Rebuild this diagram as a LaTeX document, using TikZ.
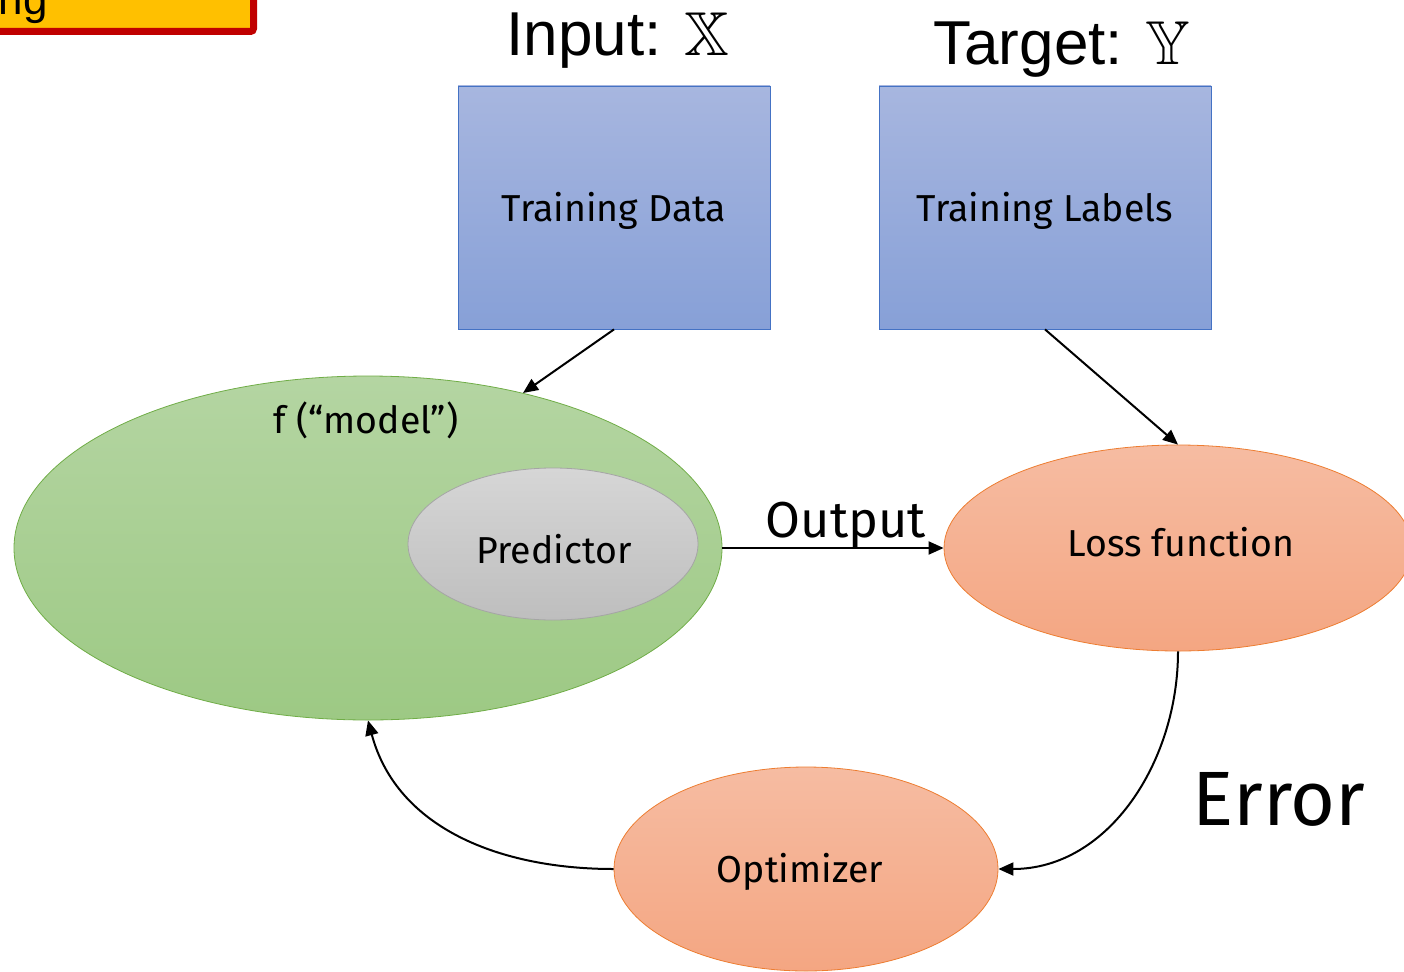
\documentclass[tikz,border=0pt]{standalone}
\usepackage{amssymb}
\usepackage{fontspec}
\setmainfont{Fira Sans}
\newfontfamily\arialf{Liberation Sans}
\usetikzlibrary{arrows.meta,shapes.geometric}
\begin{document}
\begin{tikzpicture}[x=1pt,y=-1pt,
  boxstyle/.style={rectangle, top color=bluetop, bottom color=bluebot, line width=0.8pt, inner sep=0pt},
  ellstyle/.style={ellipse, inner sep=0pt, line width=0.8pt},
  conn/.style={line width=2pt, -{Triangle[length=15pt,width=13pt]}},
  lbl/.style={font=\fontsize{37.5}{42}\selectfont, inner sep=0pt}
]
\definecolor{bluetop}{HTML}{A7B6DF}
\definecolor{bluebot}{HTML}{87A0D7}
\definecolor{blueedge}{HTML}{4472C4}
\definecolor{greentop}{HTML}{B4D5A2}
\definecolor{greenbot}{HTML}{9DC984}
\definecolor{greenedge}{HTML}{70AD47}
\definecolor{graytop}{HTML}{D6D6D6}
\definecolor{graybot}{HTML}{BEBEBE}
\definecolor{grayedge}{HTML}{A5A5A5}
\definecolor{orangetop}{HTML}{F6BCA2}
\definecolor{orangebot}{HTML}{F4A682}
\definecolor{orangeedge}{HTML}{ED7D31}
\definecolor{titleyellow}{HTML}{FFC000}
\definecolor{titlered}{HTML}{C00000}

\useasboundingbox (0,0) rectangle (1404,971);

% clipped title box
\begin{scope}
\clip (0,0) rectangle (1404,971);
\draw[fill=titleyellow, draw=titlered, line width=7pt, rounded corners=3pt] (-100,-60) rectangle (253.5,31.5);
\node[anchor=base east, font=\arialf\fontsize{44}{50}\selectfont, inner sep=0pt] (title) at (48,15) {ng};
\end{scope}

% headings
\node[font=\arialf\fontsize{62}{70}\selectfont, anchor=base, inner sep=0pt] (inlbl) at (618,56) {Input: $\mathbb{X}$};
\node[font=\arialf\fontsize{62}{70}\selectfont, anchor=base, inner sep=0pt] (tglbl) at (1062,65) {Target: $\mathbb{Y}$};

% boxes
\node[boxstyle, draw=blueedge, minimum width=312pt, minimum height=243pt] (td) at (614,207.5) {};
\node[lbl] (tdlbl) at (614,211) {Training Data};
\node[boxstyle, draw=blueedge, minimum width=332pt, minimum height=243pt] (tl) at (1045,207.5) {};
\node[lbl] (tllbl) at (1045,211) {Training Labels};

% model
\node[ellstyle, draw=greenedge, top color=greentop, bottom color=greenbot, minimum width=708pt, minimum height=344pt] (model) at (368,548) {};
\node[lbl] (mlbl) at (366,420) {f (“model”)};
\node[ellstyle, draw=grayedge, top color=graytop, bottom color=graybot, minimum width=290pt, minimum height=152pt] (pred) at (553,544) {};
\node[lbl] (predlbl) at (554,549) {Predictor};

% loss & optimizer
\node[ellstyle, draw=orangeedge, top color=orangetop, bottom color=orangebot, minimum width=468pt, minimum height=206pt] (loss) at (1178,548) {};
\node[lbl] (losslbl) at (1181,542) {Loss function};
\node[ellstyle, draw=orangeedge, top color=orangetop, bottom color=orangebot, minimum width=384pt, minimum height=204pt] (opt) at (806,869) {};
\node[lbl] (optlbl) at (800,872) {Optimizer};

% connectors
\draw[conn] (td.south) -- (model.45);
\draw[conn] (tl.south) -- (loss.north);
\draw[conn] (model.east) -- (loss.west);
\node[font=\fontsize{50.5}{56}\selectfont, anchor=base, inner sep=0pt] (outlbl) at (846,537) {Output};
\draw[conn] (loss.south) to[out=-90, in=0, looseness=1.0] (opt.east);
\draw[conn] (opt.west) to[out=180, in=-75, looseness=1.0] (model.south);

\node[font=\fontsize{77}{84}\selectfont, anchor=base, inner sep=0pt] (err) at (1279,825) {Error};
\end{tikzpicture}
\end{document}
